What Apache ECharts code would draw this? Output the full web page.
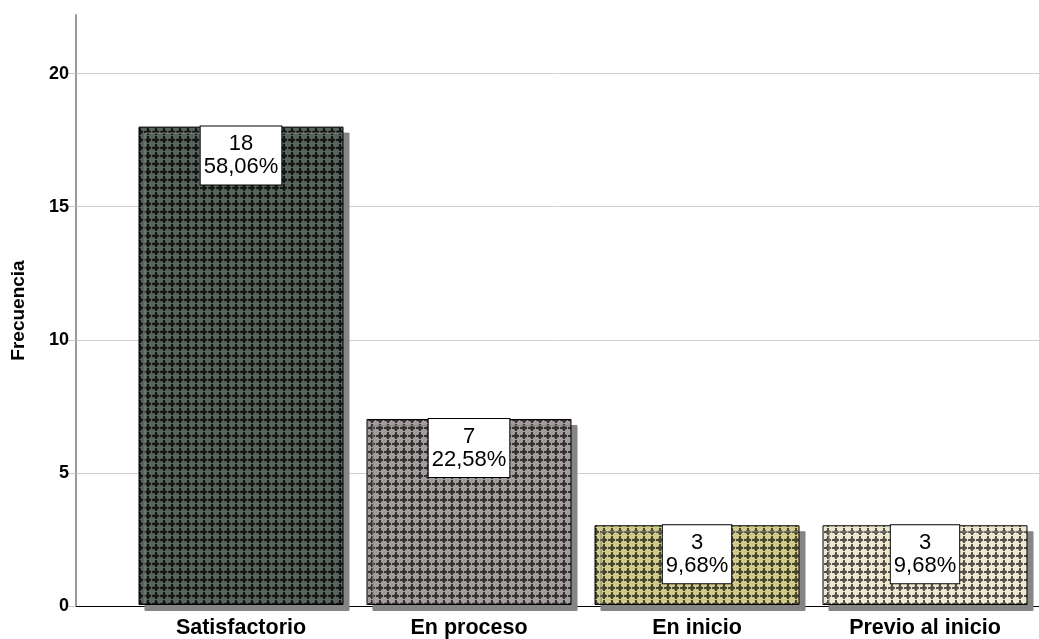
<!DOCTYPE html>
<html><head><meta charset="utf-8">
<script src="https://cdn.jsdelivr.net/npm/echarts@6/dist/echarts.min.js"></script>
<style>html,body{margin:0;padding:0;background:#fff}#c{width:1039px;height:639px}</style>
</head><body><div id="c"></div>
<script>
const categories = ['Satisfactorio', 'En proceso', 'En inicio', 'Previo al inicio'];
const counts = [18, 7, 3, 3];
const percents = ['58,06%', '22,58%', '9,68%', '9,68%'];
const yTicks = [0, 5, 10, 15, 20];
const yAxisTitle = 'Frecuencia';
const barColors = ['#56635a', '#a29c9c', '#cfc98a', '#efe8d0'];
const crossColors = ['#141714', '#363232', '#48452f', '#57534a'];

function makePattern(bg, fg) {
  const c = document.createElement('canvas');
  c.width = 8; c.height = 8;
  const g = c.getContext('2d');
  g.fillStyle = bg; g.fillRect(0, 0, 8, 8);
  g.fillStyle = fg;
  g.fillRect(0, 3, 7, 2);
  g.fillRect(3, 0, 2, 7);
  g.globalAlpha = 0.6;
  g.fillRect(2, 2, 1, 1); g.fillRect(5, 2, 1, 1);
  g.fillRect(2, 5, 1, 1); g.fillRect(5, 5, 1, 1);
  return { image: c, repeat: 'repeat' };
}
const patterns = barColors.map((b, i) => makePattern(b, crossColors[i]));
const font = 'Liberation Sans, Arial, sans-serif';

const chart = echarts.init(document.getElementById('c'));
chart.setOption({
  animation: false,
  backgroundColor: '#fff',
  grid: [
    { left: 76, right: 0, top: 15, bottom: 33 },
    { left: 127, right: -2, top: 15, bottom: 33 }
  ],
  xAxis: [
    { gridIndex: 0, type: 'value', min: 0, max: 1,
      axisLine: { show: true, lineStyle: { color: '#000', width: 1 } },
      axisTick: { show: false }, axisLabel: { show: false }, splitLine: { show: false } },
    { gridIndex: 1, type: 'category', data: categories,
      axisLine: { show: false }, axisTick: { show: false },
      axisLabel: { fontFamily: font, fontWeight: 'bold', fontSize: 21.5, color: '#000', margin: 12 } }
  ],
  yAxis: [
    { gridIndex: 0, type: 'value', min: 0, max: 22.2, interval: 5,
      name: yAxisTitle, nameLocation: 'middle', nameGap: 48,
      nameTextStyle: { fontFamily: font, fontSize: 19, fontWeight: 'bold', color: '#000' },
      axisLine: { show: true, lineStyle: { color: '#999999', width: 2 } },
      axisTick: { show: true, length: 8, lineStyle: { color: '#c8c8c8' } },
      axisLabel: { showMaxLabel: false, fontFamily: font, fontWeight: 'bold', fontSize: 18, color: '#000', margin: 7,
        padding: [6, 0, 0, 0],
        formatter: v => yTicks.includes(v) ? String(v) : '' },
      splitLine: { show: true, showMaxLine: false, lineStyle: { color: '#d0d0d0', width: 1 } } },
    { gridIndex: 1, type: 'value', min: 0, max: 22.2, interval: 5, show: false }
  ],
  series: [{
    type: 'bar', xAxisIndex: 1, yAxisIndex: 1, barWidth: 205, clip: false,
    data: counts.map((v, i) => ({ value: v, itemStyle: { color: patterns[i] } })),
    itemStyle: { borderColor: '#000', borderWidth: 1, shadowColor: '#858585', shadowOffsetX: 6, shadowOffsetY: 6, shadowBlur: 0 },
    label: {
      show: true, position: 'insideTop', distance: 0,
      formatter: p => counts[p.dataIndex] + '\n' + percents[p.dataIndex],
      backgroundColor: '#fff', borderColor: '#000', borderWidth: 1,
      padding: [6, 3, 6, 3], fontSize: 22, lineHeight: 23, color: '#000', fontFamily: font, align: 'center'
    }
  }]
});
</script></body></html>
